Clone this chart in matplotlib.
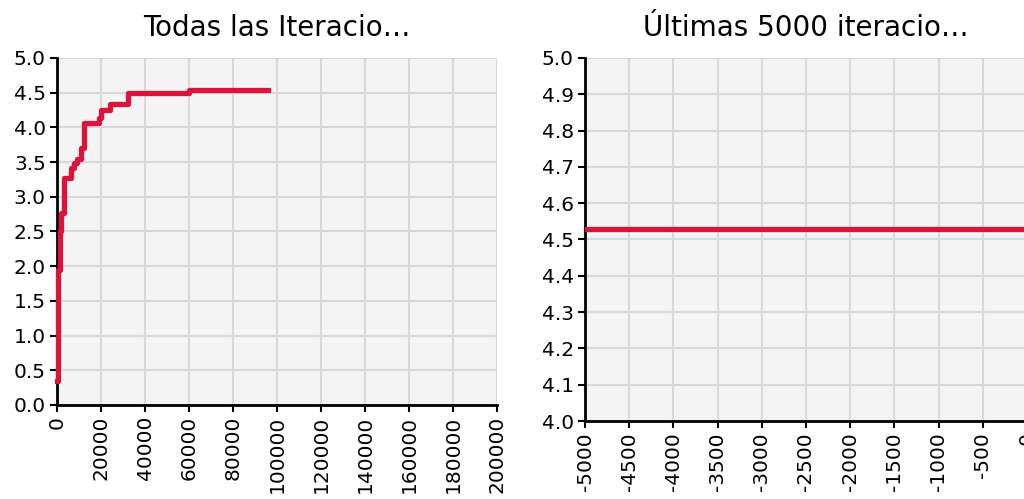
import matplotlib
matplotlib.use("Agg")
import matplotlib.pyplot as plt

# best fitness found so far, as a step curve over all iterations
all_iters = [0, 300, 1500, 2000, 3000, 6500, 7900, 9100, 11000, 12100, 18900, 20200, 23900, 32300, 59800, 96000]
all_best = [0.35, 1.95, 2.50, 2.76, 3.27, 3.41, 3.48, 3.54, 3.71, 4.07, 4.14, 4.25, 4.34, 4.49, 4.54, 4.54]

# last 5000 iterations (relative to the end)
last_iters = [-5000, 0]
last_best = [4.53, 4.53]

left_xticks = list(range(0, 200001, 20000))
left_yticks = [i / 2 for i in range(0, 11)]
right_xticks = list(range(-5000, 1, 500))
right_yticks = [4.0 + i / 10 for i in range(0, 11)]

line_color = "#DC143C"
bg_color = "#F4F4F4"
grid_color = "#D9D9D9"

fig = plt.figure(figsize=(10.24, 4.99), dpi=100)
ax1 = fig.add_axes([0.0557, 0.1884, 0.4297, 0.6954])
ax2 = fig.add_axes([0.5713, 0.1563, 0.4316, 0.7275])


def style(ax, xticks, yticks, xlim, ylim, title):
    ax.set_facecolor(bg_color)
    ax.set_xlim(*xlim)
    ax.set_ylim(*ylim)
    ax.set_xticks(xticks)
    ax.set_yticks(yticks)
    ax.set_xticklabels([str(t) for t in xticks], rotation=90)
    ax.set_yticklabels([f"{t:.1f}" for t in yticks])
    ax.tick_params(labelsize=14.5, length=5, width=1.5, color="black", pad=3)
    ax.grid(True, color=grid_color, linewidth=1.5)
    ax.set_axisbelow(True)
    for side in ("top", "right"):
        ax.spines[side].set_visible(False)
    for side in ("left", "bottom"):
        ax.spines[side].set_linewidth(2)
        ax.spines[side].set_color("black")
    ax.set_title(title, fontsize=20, pad=16)


ax1.plot(all_iters, all_best, drawstyle="steps-post", color=line_color,
         linewidth=3.8, clip_on=False, zorder=3)
style(ax1, left_xticks, left_yticks, (0, 200000), (0, 5.0), "Todas las Iteracio…")

ax2.plot(last_iters, last_best, color=line_color, linewidth=3.8, zorder=3)
style(ax2, right_xticks, right_yticks, (-5000, 0), (4.0, 5.0), "Últimas 5000 iteracio…")

fig.savefig("out.png", dpi=100)
